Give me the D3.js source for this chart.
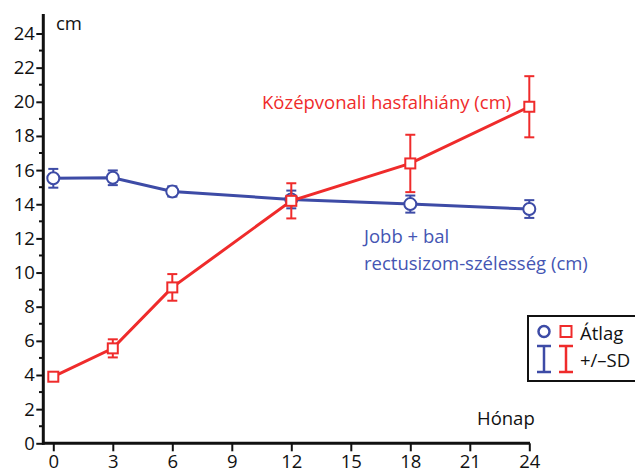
<!DOCTYPE html>
<html><head><meta charset="utf-8">
<script src="https://cdn.jsdelivr.net/npm/d3@7"></script>
<style>body{margin:0;background:#fff}svg{display:block}</style>
</head><body>
<script>
const months = [0, 3, 6, 12, 18, 24];
const rectusMean = [15.52, 15.55, 14.75, 14.28, 14.01, 13.72];
const rectusSD = [0.55, 0.43, 0.3, 0.52, 0.5, 0.52];
const defectMean = [3.9, 5.56, 9.13, 14.2, 16.39, 19.71];
const defectSD = [0.1, 0.53, 0.78, 1.03, 1.68, 1.79];
const xTicks = [0, 3, 6, 9, 12, 15, 18, 21, 24];
const yTicks = [0, 2, 4, 6, 8, 10, 12, 14, 16, 18, 20, 22, 24];
const yMinor = d3.range(1, 25, 2);

const W = 635, H = 474;
const BLUE = "#3d4ba6", RED = "#ef2b2b", FONT = "'Open Sans', sans-serif";
const svg = d3.select("body").append("svg").attr("width", W).attr("height", H);
const x = d3.scaleLinear().domain([0, 24]).range([53.3, 529.3]);
const y = d3.scaleLinear().domain([0, 24]).range([443.3, 33.5]);

// axes
svg.append("line").attr("x1", 43.3).attr("x2", 43.3).attr("y1", 14).attr("y2", 444.8)
  .attr("stroke", "#111").attr("stroke-width", 3);
svg.append("line").attr("x1", 42).attr("x2", 530).attr("y1", 443.3).attr("y2", 443.3)
  .attr("stroke", "#111").attr("stroke-width", 3);

const yAx = svg.append("g").attr("transform", "translate(43.3,0)")
  .call(d3.axisLeft(y).tickValues(yTicks).tickSize(7).tickPadding(1.5).tickFormat(d3.format("d")));
yAx.select(".domain").remove();
yAx.selectAll("line").attr("stroke", "#111").attr("stroke-width", 2);
yAx.selectAll("text").attr("font-family", FONT).attr("font-size", 18.5).attr("fill", "#111");
svg.append("g").selectAll("line").data(yMinor).join("line")
  .attr("x1", 39).attr("x2", 43.3).attr("y1", d => y(d)).attr("y2", d => y(d))
  .attr("stroke", "#111").attr("stroke-width", 2);

const xAx = svg.append("g").attr("transform", "translate(0,443.3)")
  .call(d3.axisBottom(x).tickValues(xTicks).tickSize(8).tickPadding(4).tickFormat(d3.format("d")));
xAx.select(".domain").remove();
xAx.selectAll("line").attr("stroke", "#111").attr("stroke-width", 2);
xAx.selectAll("text").attr("font-family", FONT).attr("font-size", 18.5).attr("fill", "#111");

// series
function drawSeries(mean, sd, color, shape) {
  const pts = months.map((m, i) => ({m, v: mean[i], s: sd[i]}));
  svg.append("path").datum(pts)
    .attr("d", d3.line().x(d => x(d.m)).y(d => y(d.v)))
    .attr("fill", "none").attr("stroke", color).attr("stroke-width", 3);
  const g = svg.append("g");
  pts.forEach(d => {
    const cx = x(d.m), top = y(d.v + d.s), bot = y(d.v - d.s);
    g.append("line").attr("x1", cx).attr("x2", cx).attr("y1", top).attr("y2", bot)
      .attr("stroke", color).attr("stroke-width", 2);
    [top, bot].forEach(t => g.append("line").attr("x1", cx - 5).attr("x2", cx + 5)
      .attr("y1", t).attr("y2", t).attr("stroke", color).attr("stroke-width", 2));
  });
  pts.forEach(d => {
    const cx = x(d.m), cy = y(d.v);
    if (shape === "circle") {
      g.append("circle").attr("cx", cx).attr("cy", cy).attr("r", 6)
        .attr("fill", "#fff").attr("stroke", color).attr("stroke-width", 2);
    } else {
      g.append("rect").attr("x", cx - 5).attr("y", cy - 5).attr("width", 10).attr("height", 10)
        .attr("fill", "#fff").attr("stroke", color).attr("stroke-width", 2);
    }
  });
}
drawSeries(rectusMean, rectusSD, BLUE, "circle");
drawSeries(defectMean, defectSD, RED, "square");

// labels
const txt = (t, xx, yy, c) => svg.append("text").attr("x", xx).attr("y", yy).text(t)
  .attr("font-family", FONT).attr("font-size", 18.5).attr("fill", c);
txt("cm", 56, 30, "#111");
txt("Hónap", 477, 425, "#111");
txt("Középvonali hasfalhiány (cm)", 262, 109, RED);
txt("Jobb + bal", 364, 243, "#4455b3");
txt("rectusizom-szélesség (cm)", 364, 270, "#4455b3");

// legend
svg.append("rect").attr("x", 528).attr("y", 316).attr("width", 120).attr("height", 65)
  .attr("fill", "#fff").attr("stroke", "#111").attr("stroke-width", 2);
svg.append("circle").attr("cx", 544).attr("cy", 331.5).attr("r", 5.5)
  .attr("fill", "#fff").attr("stroke", BLUE).attr("stroke-width", 2.5);
svg.append("rect").attr("x", 560.5).attr("y", 326).attr("width", 11).attr("height", 11)
  .attr("fill", "#fff").attr("stroke", RED).attr("stroke-width", 2);
[[544, BLUE], [566, RED]].forEach(([cx, c]) => {
  svg.append("line").attr("x1", cx).attr("x2", cx).attr("y1", 346).attr("y2", 372).attr("stroke", c).attr("stroke-width", 2.5);
  [346, 372].forEach(t => svg.append("line").attr("x1", cx - 7).attr("x2", cx + 7).attr("y1", t).attr("y2", t).attr("stroke", c).attr("stroke-width", 2.5));
});
txt("Átlag", 580, 340, "#111");
txt("+/–SD", 580, 367, "#111");
</script>
</body></html>
